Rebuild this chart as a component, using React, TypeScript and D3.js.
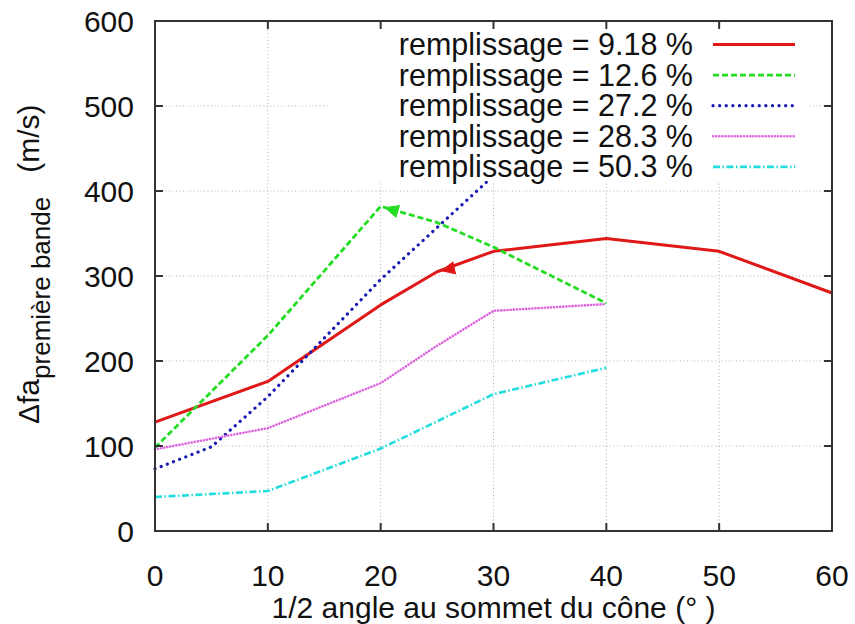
import React from "react";
import * as d3 from "d3";

const xTicks = [0, 10, 20, 30, 40, 50, 60];
const yTicks = [0, 100, 200, 300, 400, 500, 600];

const angle918 = [0, 10, 20, 25, 30, 40, 50, 60];
const val918 = [128, 176, 266, 305, 329, 344, 329, 280];

const angle126 = [0, 10, 20, 25, 30, 40];
const val126 = [98, 230, 382, 363, 334, 268];

const angle272 = [0, 5, 10, 20, 30];
const val272 = [73, 99, 158, 296, 418];

const angle283 = [0, 10, 20, 25, 30, 40];
const val283 = [96, 121, 174, 218, 259, 267];

const angle503 = [0, 10, 20, 30, 40];
const val503 = [40, 47, 97, 161, 192];

const legendLabels = [
  "remplissage = 9.18 %",
  "remplissage = 12.6 %",
  "remplissage = 27.2 %",
  "remplissage = 28.3 %",
  "remplissage = 50.3 %",
];

// arrowhead markers: [series index, x, y, pointing-to x, pointing-to y]
const markerSeries = [0, 1];
const markerX = [26, 21];
const markerY = [308, 378];
const markerToX = [25, 20];
const markerToY = [305, 382];

const colors = ["#e01818", "#22dd22", "#1a1ab4", "#dd66dd", "#22dddd"];
const dashes = ["none", "6,3", "0.1,6.5", "0.1,3", "7,2.5,1.5,2.5"];
const caps = ["butt", "butt", "round", "round", "butt"];
const widths = [3, 2.8, 3.2, 2.6, 2.6];

const FONT = "'Liberation Sans', Arial, Helvetica, sans-serif";

export default function App() {
  const W = 855;
  const H = 624;
  const x0 = 155, x1 = 832, y0 = 531, y1 = 21;
  const x = d3.scaleLinear().domain([0, 60]).range([x0, x1]);
  const y = d3.scaleLinear().domain([0, 600]).range([y0, y1]);

  const series = [
    { a: angle918, v: val918 },
    { a: angle126, v: val126 },
    { a: angle272, v: val272 },
    { a: angle283, v: val283 },
    { a: angle503, v: val503 },
  ];

  const line = d3
    .line<[number, number]>()
    .x((d) => x(d[0]))
    .y((d) => y(d[1]));

  const legX0 = 330, legX1 = 808, legY0 = 22, legY1 = 181;
  const legendRowY = (i: number) => 44.5 + i * 30.6;

  return (
    <svg width={W} height={H} style={{ position: "absolute", left: 0, top: 0, background: "#fff" }} fontFamily={FONT}>
      <rect x={0} y={0} width={W} height={H} fill="#fff" />
      {/* grid */}
      {xTicks.slice(1, -1).map((t) => (
        <line key={"gx" + t} x1={x(t)} x2={x(t)} y1={y0} y2={y1} stroke="#b0b0b0" strokeWidth={1} strokeDasharray="1,2.5" />
      ))}
      {yTicks.slice(1, -1).map((t) => (
        <line key={"gy" + t} x1={x0} x2={x1} y1={y(t)} y2={y(t)} stroke="#b0b0b0" strokeWidth={1} strokeDasharray="1,2.5" />
      ))}
      {/* series */}
      {series.map((s, i) => (
        <path
          key={"s" + i}
          d={line(s.a.map((a, j) => [a, s.v[j]] as [number, number])) || ""}
          fill="none"
          stroke={colors[i]}
          strokeWidth={widths[i]}
          strokeDasharray={dashes[i]}
          strokeLinecap={caps[i] as any}
          strokeLinejoin="round"
        />
      ))}
      {/* arrowheads */}
      {markerSeries.map((si, k) => {
        const px = x(markerX[k]);
        const py = y(markerY[k]);
        const tx = x(markerToX[k]);
        const ty = y(markerToY[k]);
        const ang = (Math.atan2(ty - py, tx - px) * 180) / Math.PI;
        return (
          <path
            key={"m" + k}
            d="M-6,-6 L7,0 L-6,6 Z"
            transform={`translate(${px},${py}) rotate(${ang})`}
            fill={colors[si]}
            stroke={colors[si]}
            strokeWidth={1}
          />
        );
      })}
      {/* legend */}
      <rect x={legX0} y={legY0} width={legX1 - legX0} height={legY1 - legY0} fill="#fff" />
      {legendLabels.map((l, i) => (
        <g key={"l" + i}>
          <text x={693} y={legendRowY(i) + 10.5} textAnchor="end" fontSize={30.5} fill="#111">
            {l}
          </text>
          <line
            x1={713}
            x2={795}
            y1={legendRowY(i)}
            y2={legendRowY(i)}
            stroke={colors[i]}
            strokeWidth={widths[i]}
            strokeDasharray={dashes[i]}
            strokeLinecap={caps[i] as any}
          />
        </g>
      ))}
      {/* frame */}
      <rect x={x0} y={y1} width={x1 - x0} height={y0 - y1} fill="none" stroke="#333" strokeWidth={2} />
      {xTicks.slice(1, -1).map((t) => (
        <g key={"tx" + t}>
          <line x1={x(t)} x2={x(t)} y1={y0} y2={y0 - 8} stroke="#333" strokeWidth={2} />
          <line x1={x(t)} x2={x(t)} y1={y1} y2={y1 + 8} stroke="#333" strokeWidth={2} />
        </g>
      ))}
      {yTicks.slice(1, -1).map((t) => (
        <g key={"ty" + t}>
          <line x1={x0} x2={x0 + 8} y1={y(t)} y2={y(t)} stroke="#333" strokeWidth={2} />
          <line x1={x1} x2={x1 - 8} y1={y(t)} y2={y(t)} stroke="#333" strokeWidth={2} />
        </g>
      ))}
      {/* tick labels */}
      {xTicks.map((t) => (
        <text key={"lx" + t} x={x(t)} y={586} textAnchor="middle" fontSize={30} fill="#111">
          {t}
        </text>
      ))}
      {yTicks.map((t) => (
        <text key={"ly" + t} x={134} y={y(t) + 10.5} textAnchor="end" fontSize={30} fill="#111">
          {t}
        </text>
      ))}
      {/* axis titles */}
      <text x={(x0 + x1) / 2} y={618} textAnchor="middle" fontSize={30} fill="#111">
        1/2 angle au sommet du cône (° )
      </text>
      <text transform="translate(39,424) rotate(-90)" textAnchor="start" fontSize={30} fill="#111">
        Δfa
        <tspan dy={11} fontSize={26}>
          première bande
        </tspan>
        <tspan dy={-11} dx={24}>
          (m/s)
        </tspan>
      </text>
    </svg>
  );
}
